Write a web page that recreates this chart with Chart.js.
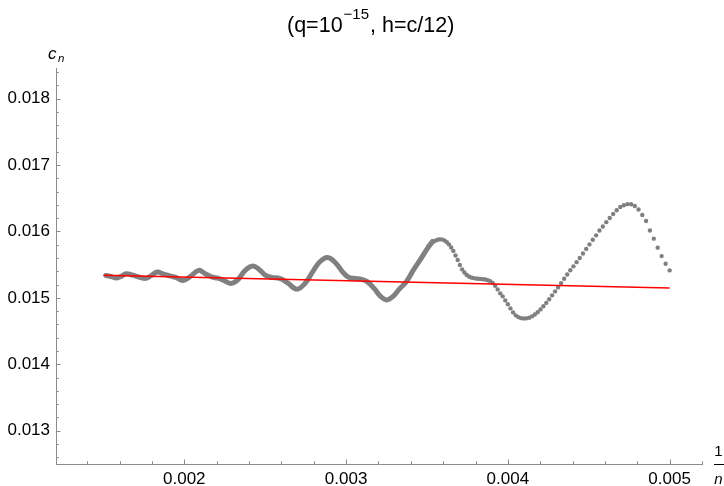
<!DOCTYPE html>
<html>
<head>
<meta charset="utf-8">
<script src="https://cdn.jsdelivr.net/npm/chart.js@4.4.1/dist/chart.umd.min.js"></script>
<style>
  html, body { margin: 0; padding: 0; background: #fff; }
  #wrap { width: 724px; height: 486px; }
</style>
</head>
<body>
<div id="wrap"><canvas id="chart" width="724" height="486"></canvas></div>
<script>
// right end of the curve, one dot per n (dots are separate there)
const sparseN = [200, 201, 202, 203, 204, 205, 206, 207, 208, 209,
  210, 211, 212, 213, 214, 215, 216, 217, 218, 219,
  220, 221, 222, 223, 224, 225, 226, 227, 228, 229,
  230, 231, 232, 233, 234, 235, 236, 237, 238, 239,
  240, 241, 242, 243, 244, 245, 246, 247, 248, 249,
  250, 251, 252, 253, 254, 255, 256, 257, 258, 259,
  260, 261, 262, 263, 264, 265, 266, 267, 268, 269,
  270, 271, 272, 273, 274, 275, 276, 277, 278, 279,
  280, 281, 282, 283, 284, 285];
const sparseC = [0.015414, 0.015514, 0.015629, 0.015756, 0.015892, 0.016015, 0.016158, 0.016248, 0.016331, 0.016383,
  0.016409, 0.016411, 0.016395, 0.016368, 0.016320, 0.016263, 0.016203, 0.016140, 0.016075, 0.016014,
  0.015941, 0.015874, 0.015805, 0.015737, 0.015669, 0.015600, 0.015538, 0.015475, 0.015415, 0.015353,
  0.015289, 0.015223, 0.015158, 0.015098, 0.015038, 0.014980, 0.014925, 0.014875, 0.014827, 0.014785,
  0.014750, 0.014722, 0.014702, 0.014692, 0.014689, 0.014695, 0.014710, 0.014737, 0.014782, 0.014842,
  0.014905, 0.014962, 0.015023, 0.015068, 0.015128, 0.015183, 0.015226, 0.015251, 0.015266, 0.015277,
  0.015281, 0.015286, 0.015289, 0.015292, 0.015298, 0.015308, 0.015323, 0.015346, 0.015383, 0.015429,
  0.015496, 0.015571, 0.015639, 0.015707, 0.015759, 0.015805, 0.015838, 0.015862, 0.015877, 0.015881,
  0.015878, 0.015869, 0.015854, 0.015835, 0.015809, 0.015779];

// left part, dots merge into a thick band - read along its centre
const denseX = [0.0015154, 0.0015401, 0.0015772, 0.0016080, 0.0016420, 0.0016698, 0.0017006, 0.0017562, 0.0017932, 0.0018333,
  0.0018673, 0.0019105, 0.0019475, 0.0019907, 0.0020340, 0.0020895, 0.0021265, 0.0021698, 0.0022068, 0.0022438,
  0.0022901, 0.0023302, 0.0023735, 0.0024228, 0.0024660, 0.0025031, 0.0025401, 0.0025895, 0.0026389, 0.0026944,
  0.0027438, 0.0027932, 0.0028364, 0.0028858, 0.0029352, 0.0029784, 0.0030154, 0.0030586, 0.0030957, 0.0031327,
  0.0031759, 0.0032130, 0.0032500, 0.0032870, 0.0033302, 0.0033735, 0.0034167, 0.0034599, 0.0035031, 0.0035340];
const denseC = [0.015338, 0.015326, 0.015301, 0.015323, 0.015364, 0.015349, 0.015328, 0.015293, 0.015331, 0.015391,
  0.015361, 0.015331, 0.015308, 0.015263, 0.015316, 0.015414, 0.015368, 0.015316, 0.015296, 0.015263,
  0.015218, 0.015271, 0.015406, 0.015481, 0.015421, 0.015338, 0.015308, 0.015293, 0.015226, 0.015132,
  0.015211, 0.015391, 0.015541, 0.015609, 0.015526, 0.015391, 0.015311, 0.015293, 0.015278, 0.015241,
  0.015135, 0.015023, 0.014970, 0.015015, 0.015135, 0.015248, 0.015421, 0.015579, 0.015744, 0.015850];

// red fitted line
const fitX = [0.0015, 0.005];
const fitC = [0.015341, 0.01515];

const xMajor = [0.002, 0.003, 0.004, 0.005];
const xMinor = [0.0014, 0.0016, 0.0018, 0.0022, 0.0024, 0.0026, 0.0028, 0.0032, 0.0034,
  0.0036, 0.0038, 0.0042, 0.0044, 0.0046, 0.0048, 0.0052];
const yMajor = [0.013, 0.014, 0.015, 0.016, 0.017, 0.018];
const yMinor = [0.0126, 0.0128, 0.0132, 0.0134, 0.0136, 0.0138, 0.0142, 0.0144, 0.0146, 0.0148,
  0.0152, 0.0154, 0.0156, 0.0158, 0.0162, 0.0164, 0.0166, 0.0168, 0.0172, 0.0174, 0.0176, 0.0178,
  0.0182, 0.0184];

const FONT = '"Liberation Sans", Arial, sans-serif';
const AXIS = '#8c8c8c';
const GRAY = '#808080';

const sparsePts = sparseN.map((n, i) => ({ x: 1 / n, y: sparseC[i] }));
const densePts = denseX.map((x, i) => ({ x: x, y: denseC[i] }));
const fitPts = fitX.map((x, i) => ({ x: x, y: fitC[i] }));

// Mathematica style ticks point into the plot, plus title and axis labels
const decor = {
  id: 'decor',
  afterDraw(chart) {
    const ctx = chart.ctx;
    const xs = chart.scales.x;
    const ys = chart.scales.y;
    const area = chart.chartArea;
    ctx.save();
    ctx.strokeStyle = AXIS;
    ctx.lineWidth = 1;
    ctx.beginPath();
    yMajor.concat(yMinor).forEach(v => {
      const py = Math.round(ys.getPixelForValue(v)) + 0.5;
      const len = yMajor.includes(v) ? 4.5 : 2.8;
      ctx.moveTo(area.left, py);
      ctx.lineTo(area.left + len, py);
    });
    xMajor.concat(xMinor).forEach(v => {
      const px = Math.round(xs.getPixelForValue(v)) + 0.5;
      const len = xMajor.includes(v) ? 4.5 : 2.8;
      ctx.moveTo(px, area.bottom);
      ctx.lineTo(px, area.bottom - len);
    });
    ctx.stroke();

    // title: (q=10^-15, h=c/12)
    ctx.fillStyle = '#000';
    ctx.textBaseline = 'alphabetic';
    ctx.textAlign = 'left';
    const big = '21.5px ' + FONT;
    const small = '15px ' + FONT;
    const p1 = '(q=10', p2 = '\u221215', p3 = ', h=c/12)';
    ctx.font = big;
    const w1 = ctx.measureText(p1).width;
    const w3 = ctx.measureText(p3).width;
    ctx.font = small;
    const w2 = ctx.measureText(p2).width + 2;
    let tx = 287;
    ctx.font = big;
    ctx.fillText(p1, tx, 32);
    tx += w1 + 1;
    ctx.font = small;
    ctx.fillText(p2, tx, 19);
    tx += w2 - 1;
    ctx.font = big;
    ctx.fillText(p3, tx, 32);

    // c_n
    ctx.font = 'italic 17px ' + FONT;
    ctx.fillText('c', 48, 59);
    ctx.font = 'italic 11.5px ' + FONT;
    ctx.fillText('n', 58, 62);

    // 1/n
    ctx.textAlign = 'center';
    ctx.font = '15px ' + FONT;
    ctx.fillText('1', 718.5, 456);
    ctx.font = 'italic 15px ' + FONT;
    ctx.fillText('n', 718.5, 484);
    ctx.fillRect(714, 464, 12, 1);
    ctx.restore();
  }
};

new Chart(document.getElementById('chart'), {
  type: 'scatter',
  data: {
    datasets: [
      {
        type: 'line',
        data: fitPts,
        borderColor: '#ff0000',
        borderWidth: 1.4,
        pointRadius: 0,
        order: 0
      },
      {
        type: 'line',
        data: densePts,
        borderColor: GRAY,
        borderWidth: 5,
        borderCapStyle: 'round',
        borderJoinStyle: 'round',
        tension: 0.4,
        pointRadius: 0,
        order: 1
      },
      {
        data: sparsePts,
        backgroundColor: GRAY,
        borderWidth: 0,
        pointRadius: 2.2,
        order: 2
      }
    ]
  },
  options: {
    responsive: false,
    animation: false,
    devicePixelRatio: 1,
    layout: { padding: { top: 68, right: 22, left: 0, bottom: 0 } },
    plugins: { legend: { display: false }, tooltip: { enabled: false } },
    scales: {
      x: {
        type: 'linear',
        position: 'bottom',
        min: 0.001207,
        max: 0.0052,
        afterBuildTicks: s => { s.ticks = xMajor.map(v => ({ value: v })); },
        afterFit: s => { s.height = 22; },
        grid: { display: false, drawTicks: false },
        border: { display: true, color: AXIS, width: 1 },
        ticks: {
          color: '#000',
          font: { family: FONT, size: 17 },
          padding: 5,
          maxRotation: 0,
          autoSkip: false,
          callback: v => v.toFixed(3)
        }
      },
      y: {
        type: 'linear',
        position: 'left',
        min: 0.0125,
        max: 0.01846,
        afterBuildTicks: s => { s.ticks = yMajor.map(v => ({ value: v })); },
        afterFit: s => { s.width = 56; },
        grid: { display: false, drawTicks: false },
        border: { display: true, color: AXIS, width: 1 },
        ticks: {
          color: '#000',
          font: { family: FONT, size: 17 },
          padding: 6,
          autoSkip: false,
          callback: v => v.toFixed(3)
        }
      }
    }
  },
  plugins: [decor]
});
</script>
</body>
</html>
